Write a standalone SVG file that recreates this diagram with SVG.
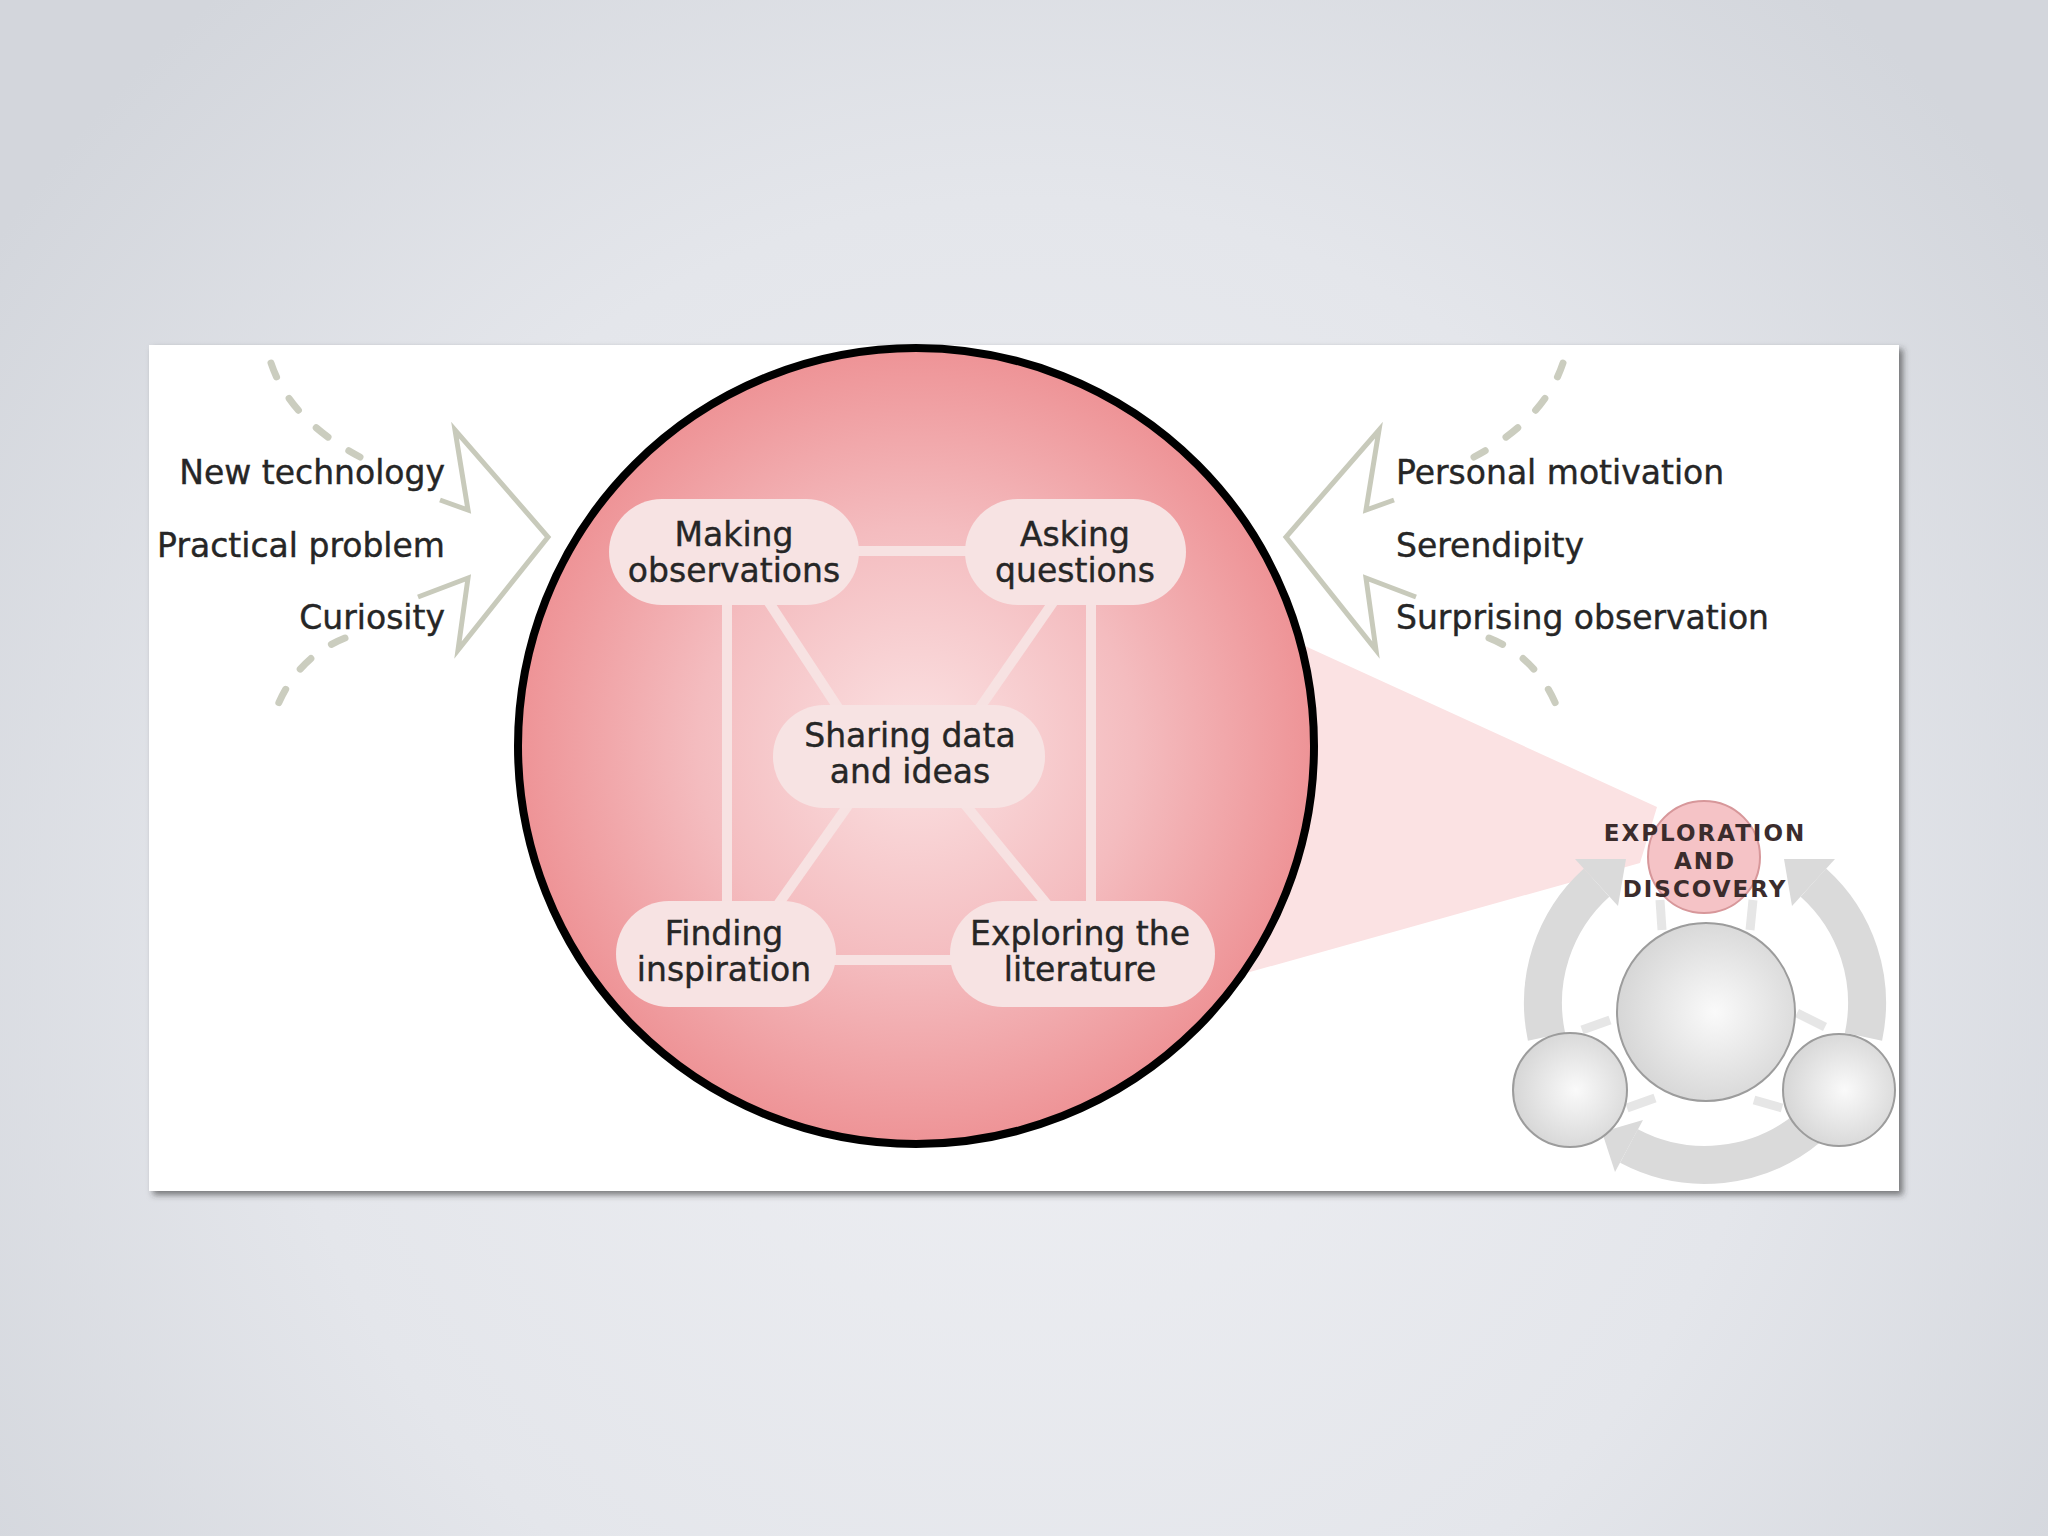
<svg xmlns="http://www.w3.org/2000/svg" width="2048" height="1536" viewBox="0 0 2048 1536">
<defs>
<radialGradient id="bg" cx="1024" cy="950" r="1250" gradientUnits="userSpaceOnUse">
<stop offset="0" stop-color="#eeeff3"/>
<stop offset="0.6" stop-color="#e4e6eb"/>
<stop offset="1" stop-color="#d3d6dc"/>
</radialGradient>
<radialGradient id="bigfill" cx="0.5" cy="0.5" r="0.5">
<stop offset="0" stop-color="#fbe2e3"/>
<stop offset="0.55" stop-color="#f4bcbf"/>
<stop offset="1" stop-color="#ee9396"/>
</radialGradient>
<radialGradient id="grey" cx="0.55" cy="0.5" r="0.55">
<stop offset="0" stop-color="#fafafa"/>
<stop offset="1" stop-color="#d6d6d6"/>
</radialGradient>
<filter id="shadow" x="-5%" y="-5%" width="110%" height="115%">
<feDropShadow dx="4" dy="4" stdDeviation="3" flood-color="#333" flood-opacity="0.6"/>
</filter>
<style>
.lbl{font-family:"DejaVu Sans",Verdana,sans-serif;font-size:33px;fill:#262626;stroke:#262626;stroke-width:0.4}
.pill{fill:#f7e3e3}
.link{stroke:#f7e2e2;stroke-width:10;fill:none}
.dash{stroke:#cbcdbf;stroke-width:7;fill:none;stroke-dasharray:15 25;stroke-linecap:round}
.arr{stroke:#c8cabb;stroke-width:5;fill:none;stroke-linejoin:miter}
.ring{stroke:#dadada;stroke-width:38;fill:none}
.ringhead{fill:#dadada}
.small{stroke:#e6e6e6;stroke-width:9;fill:none}
.gc{fill:url(#grey);stroke:#9c9c9c;stroke-width:2}
.ed{font-family:"DejaVu Sans",Verdana,sans-serif;font-weight:bold;font-size:23px;letter-spacing:2px;fill:#3b2c2c;text-anchor:middle}
</style>
</defs>
<rect width="2048" height="1536" fill="url(#bg)"/>
<rect x="149" y="345" width="1750" height="846" fill="#ffffff" filter="url(#shadow)"/>

<!-- pink cone -->
<polygon points="1200,598 1657,807 1640,863 1200,986" fill="#fbe2e3"/>

<g id="left-arrow">
<path class="dash" d="M271,363 Q290,420 360,457"/>
<path class="dash" d="M345,638 Q290,660 271,724"/>
<polyline class="arr" points="440,500 468,510 455,430 548,537 458,650 468,578 418,597"/>
</g>
<g id="right-arrow" transform="translate(1834,0) scale(-1,1)">
<path class="dash" d="M271,363 Q290,420 360,457"/>
<path class="dash" d="M345,638 Q290,660 271,724"/>
<polyline class="arr" points="440,500 468,510 455,430 548,537 458,650 468,578 418,597"/>
</g>

<g id="left-labels" class="lbl" text-anchor="end">
<text x="445" y="484">New technology</text>
<text x="445" y="557">Practical problem</text>
<text x="445" y="629">Curiosity</text>
</g>
<g id="right-labels" class="lbl">
<text x="1396" y="484">Personal motivation</text>
<text x="1396" y="557">Serendipity</text>
<text x="1396" y="629">Surprising observation</text>
</g>

<g id="exploration-circle">
<circle cx="916" cy="746" r="398" fill="url(#bigfill)" stroke="#000" stroke-width="8"/>
</g>

<g id="connectors">
<line class="link" x1="850" y1="551" x2="975" y2="551"/>
<line class="link" x1="826" y1="960" x2="960" y2="960"/>
<line class="link" x1="727" y1="595" x2="727" y2="911"/>
<line class="link" x1="1091" y1="595" x2="1091" y2="911"/>
<line class="link" x1="751" y1="575" x2="856" y2="735"/>
<line class="link" x1="1072" y1="575" x2="961" y2="735"/>
<line class="link" x1="866" y1="780" x2="760" y2="930"/>
<line class="link" x1="945" y1="780" x2="1068" y2="930"/>
</g>

<g id="making-observations">
<rect class="pill" x="609" y="499" width="250" height="106" rx="53"/>
<text class="lbl" x="734" y="546" text-anchor="middle">Making</text>
<text class="lbl" x="734" y="582" text-anchor="middle">observations</text>
</g>
<g id="asking-questions">
<rect class="pill" x="965" y="499" width="221" height="106" rx="53"/>
<text class="lbl" x="1075" y="546" text-anchor="middle">Asking</text>
<text class="lbl" x="1075" y="582" text-anchor="middle">questions</text>
</g>
<g id="sharing-data">
<rect class="pill" x="773" y="705" width="272" height="103" rx="51"/>
<text class="lbl" x="910" y="747" text-anchor="middle">Sharing data</text>
<text class="lbl" x="910" y="783" text-anchor="middle">and ideas</text>
</g>
<g id="finding-inspiration">
<rect class="pill" x="616" y="901" width="220" height="106" rx="53"/>
<text class="lbl" x="724" y="945" text-anchor="middle">Finding</text>
<text class="lbl" x="724" y="981" text-anchor="middle">inspiration</text>
</g>
<g id="exploring-literature">
<rect class="pill" x="950" y="901" width="265" height="106" rx="53"/>
<text class="lbl" x="1080" y="945" text-anchor="middle">Exploring the</text>
<text class="lbl" x="1080" y="981" text-anchor="middle">literature</text>
</g>

<g id="mini-cycle">
<path class="ring" d="M1546.5,1036.7 A162,162 0 0 1 1596.6,882.6"/>
<polygon class="ringhead" points="1575,859 1618,906 1626,859"/>
<path class="ring" d="M1863.5,1036.7 A162,162 0 0 0 1813.4,882.6"/>
<polygon class="ringhead" points="1835,859 1792,906 1784,859"/>
<path class="ring" d="M1809,1127 A162,162 0 0 1 1629,1146"/>
<polygon class="ringhead" points="1615,1172 1643,1120 1602,1132"/>
<line class="small" x1="1662" y1="930" x2="1660" y2="900"/>
<line class="small" x1="1750" y1="930" x2="1753" y2="900"/>
<line class="small" x1="1610" y1="1020" x2="1582" y2="1030"/>
<line class="small" x1="1627" y1="1108" x2="1655" y2="1098"/>
<line class="small" x1="1797" y1="1013" x2="1825" y2="1027"/>
<line class="small" x1="1754" y1="1100" x2="1782" y2="1108"/>
</g>
<g id="testing-ideas">
<circle class="gc" cx="1706" cy="1012" r="89"/>
</g>
<g id="left-small">
<circle class="gc" cx="1570" cy="1090" r="57"/>
</g>
<g id="right-small">
<circle class="gc" cx="1839" cy="1090" r="56"/>
</g>
<g id="exploration-discovery">
<circle cx="1704" cy="857" r="56" fill="#f5c3c6" stroke="#d7979a" stroke-width="2"/>
<text class="ed" x="1705" y="841">EXPLORATION</text>
<text class="ed" x="1705" y="869">AND</text>
<text class="ed" x="1705" y="897">DISCOVERY</text>
</g>
</svg>
